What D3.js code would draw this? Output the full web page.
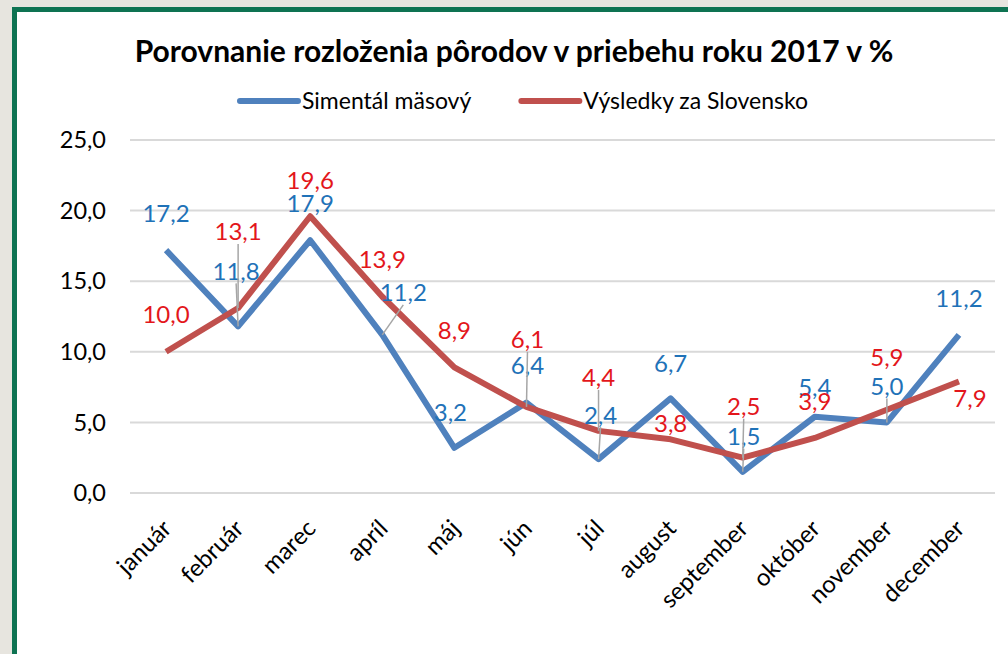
<!DOCTYPE html>
<meta charset="utf-8">
<style>
body { margin: 0; background: #e7e5df; overflow: hidden; }
svg { display: block; }
text { font-family: Lato, "Open Sans", sans-serif; }
.grid line { stroke: #d9d9d9; stroke-width: 2px; }
.leader { stroke: #a6a6a6; stroke-width: 1.5px; }
</style>
<svg width="1008" height="654"></svg>
<script src="https://d3js.org/d3.v7.min.js"></script>
<script>

var svg = d3.select("svg");

// months and the two series, in %
var months = ["január", "február", "marec", "apríl", "máj", "jún", "júl",
              "august", "september", "október", "november", "december"];
var simental = [17.2, 11.8, 17.9, 11.2, 3.2, 6.4, 2.4, 6.7, 1.5, 5.4, 5.0, 11.2];
var slovensko = [10.0, 13.1, 19.6, 13.9, 8.9, 6.1, 4.4, 3.8, 2.5, 3.9, 5.9, 7.9];
var yTicks = [0, 5, 10, 15, 20, 25];

// where Excel put each data label (pixel offset from the point) and
// whether it drew a leader line
var blueLabelDx = [0, -2, 0, 21, -4, 1, 2, 0, 1, 0, 0, 0];
var blueLabelDy = [-37, -55, -37, -42, -35, -37, -44, -35, -35, -29, -36, -36];
var blueLeader  = [false, true, false, true, false, false, true, false, true, false, true, false];
var redLabelDx  = [0, 0, 0, 0, 0, 1, 0, 0, 1, 0, 0, 11];
var redLabelDy  = [-37, -76, -36, -37, -37, -67, -53, -16, -51, -36, -52, 17];
var redLeader   = [false, true, false, false, false, true, true, false, true, false, false, false];

var blue = "#4f81bd", red = "#c0504d";
var blueText = "#1f72b8", redText = "#e3161b";

// frame: only the top and left edges show, the rest runs off the page
svg.append("rect")
    .attr("x", 12).attr("y", 7)
    .attr("width", 1000).attr("height", 650)
    .attr("fill", "#fff");
svg.append("rect")
    .attr("x", 12).attr("y", 7)
    .attr("width", 996).attr("height", 5)
    .attr("fill", "#0e7352");
svg.append("rect")
    .attr("x", 12).attr("y", 7)
    .attr("width", 5).attr("height", 647)
    .attr("fill", "#0e7352");

var x = d3.scalePoint()
    .domain(months)
    .range([130, 995])
    .padding(0.5);

var y = d3.scaleLinear()
    .domain([0, 25])
    .range([493, 140]);

var fmt = function(v) { return d3.format(".1f")(v).replace(".", ","); };

// gridlines
svg.append("g")
    .attr("class", "grid")
  .selectAll("line")
  .data(yTicks)
  .enter().append("line")
    .attr("x1", 130).attr("x2", 995)
    .attr("y1", function(d) { return y(d); })
    .attr("y2", function(d) { return y(d); });

// y axis labels
svg.append("g")
  .selectAll("text")
  .data(yTicks)
  .enter().append("text")
    .attr("x", 106)
    .attr("y", function(d) { return y(d); })
    .attr("dy", "0.35em")
    .attr("text-anchor", "end")
    .attr("font-size", 23.5)
    .attr("fill", "#000")
    .text(fmt);

// x axis labels
svg.append("g")
  .selectAll("text")
  .data(months)
  .enter().append("text")
    .attr("transform", function(d) { return "translate(" + (x(d) + 7) + ",530) rotate(-45)"; })
    .attr("text-anchor", "end")
    .attr("font-size", 24)
    .attr("fill", "#000")
    .text(function(d) { return d; });

var line = d3.line()
    .x(function(d, i) { return x(months[i]); })
    .y(function(d) { return y(d); });

svg.append("path")
    .datum(simental)
    .attr("fill", "none")
    .attr("stroke", blue)
    .attr("stroke-width", 6)
    .attr("stroke-linejoin", "round")
    .attr("d", line);

svg.append("path")
    .datum(slovensko)
    .attr("fill", "none")
    .attr("stroke", red)
    .attr("stroke-width", 6)
    .attr("stroke-linejoin", "round")
    .attr("d", line);

function labels(values, dx, dy, leader, color) {
  var g = svg.append("g");
  values.forEach(function(v, i) {
    var px = x(months[i]), py = y(v);
    var lx = px + dx[i], ly = py + dy[i];
    if (leader[i]) {
      g.append("line")
          .attr("class", "leader")
          .attr("x1", lx).attr("y1", ly + 12)
          .attr("x2", px).attr("y2", py);
    }
    g.append("text")
        .attr("x", lx)
        .attr("y", ly)
        .attr("dy", "0.35em")
        .attr("text-anchor", "middle")
        .attr("font-size", 24)
        .attr("fill", color)
        .text(fmt(v));
  });
}

labels(simental, blueLabelDx, blueLabelDy, blueLeader, blueText);
labels(slovensko, redLabelDx, redLabelDy, redLeader, redText);

// title
svg.append("text")
    .attr("x", 514)
    .attr("y", 62)
    .attr("text-anchor", "middle")
    .attr("font-size", 30)
    .attr("font-weight", "bold")
    .attr("fill", "#000")
    .text("Porovnanie rozloženia pôrodov v priebehu roku 2017 v %");

// legend
var legend = svg.append("g");
var items = [{name: "Simentál mäsový", color: blue}, {name: "Výsledky za Slovensko", color: red}];
var cx = 0;
items.forEach(function(it, i) {
  var g = legend.append("g").attr("transform", "translate(" + cx + ",0)");
  g.append("line")
      .attr("x1", 2).attr("x2", 60)
      .attr("y1", 0).attr("y2", 0)
      .attr("stroke", it.color)
      .attr("stroke-width", 6)
      .attr("stroke-linecap", "round");
  var t = g.append("text")
      .attr("x", 64)
      .attr("y", 0)
      .attr("dy", "0.35em")
      .attr("font-size", 23)
      .attr("fill", "#000")
      .text(it.name);
  cx += 64 + t.node().getComputedTextLength() + 48;
});
var lw = cx - 48;
legend.attr("transform", "translate(" + (523 - lw / 2) + ",101)");

</script>
